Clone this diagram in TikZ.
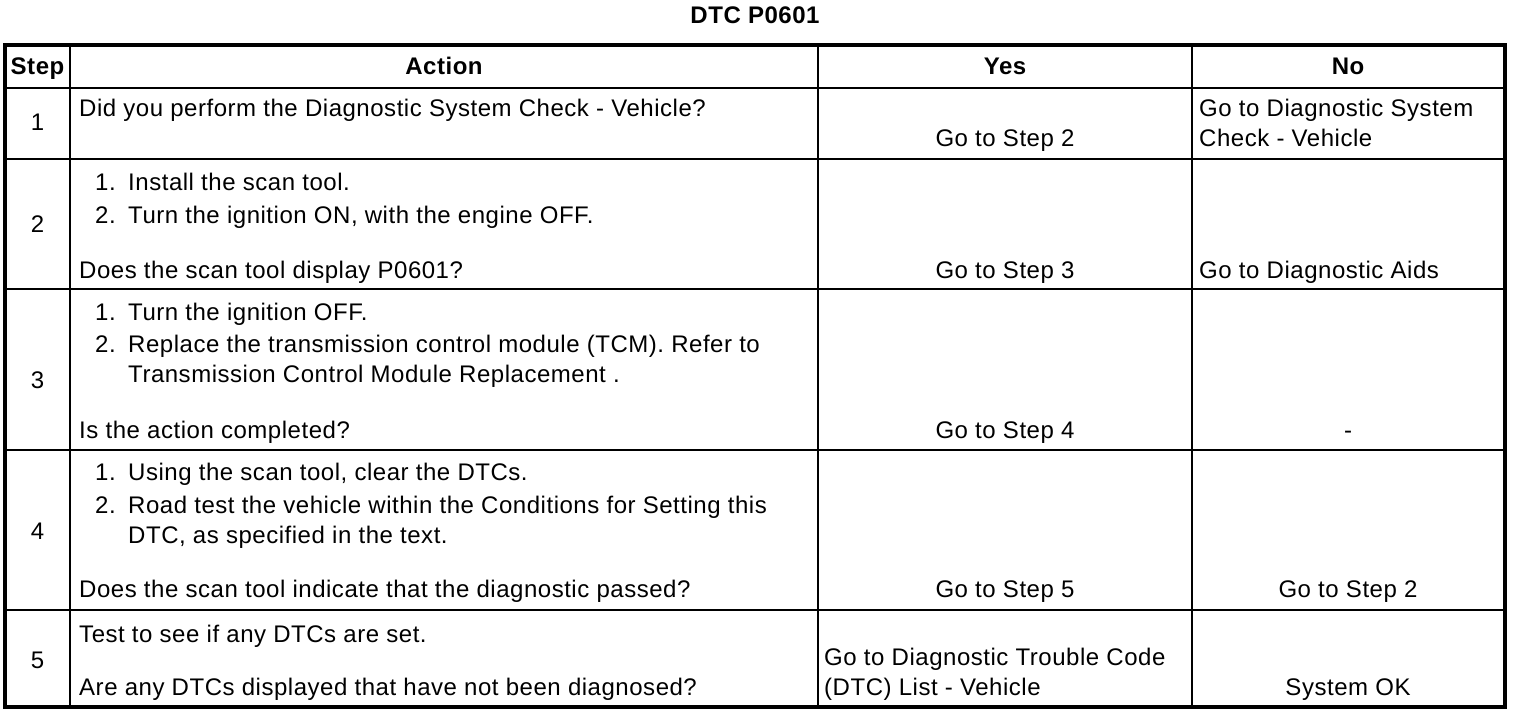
\documentclass[tikz,border=0pt]{standalone}
\usepackage{fontspec}
\setmainfont[LetterSpace=2.2]{Liberation Sans}
\begin{document}
\begin{tikzpicture}[x=1pt,y=-1pt,
  txt/.style={inner sep=0pt, font=\fontsize{24pt}{28pt}\selectfont},
  tl/.style={txt, anchor=base west},
  tc/.style={txt, anchor=base},
  hd/.style={inner sep=0pt, anchor=base, font=\fontsize{24pt}{28pt}\selectfont\bfseries},
  outerline/.style={line width=3.5pt},
  innerline/.style={line width=2pt}]
\useasboundingbox (0,0) rectangle (1520,714);
\node[hd] (title) at (755,24) {DTC P0601};
% grid
\foreach \yy in {88,159,289,450,610} \draw[innerline] (5,\yy) -- (1505,\yy);
\foreach \xx in {70,818,1192} \draw[innerline] (\xx,45) -- (\xx,707);
\draw[outerline] (5,45) rectangle (1505,707);
% header
\node[hd] (hstep) at (37.5,75) {Step};
\node[hd] (hact) at (444,75) {Action};
\node[hd] (hyes) at (1005,75) {Yes};
\node[hd] (hno) at (1348,75) {No};
% row 1
\node[tc] (s1) at (37.5,131) {1};
\node[tl] (a1) at (79,117) {Did you perform the Diagnostic System Check - Vehicle?};
\node[tc] (y1) at (1005,147) {Go to Step 2};
\node[tl] (n1a) at (1199,117) {Go to Diagnostic System};
\node[tl] (n1b) at (1199,147) {Check - Vehicle};
% row 2
\node[tc] (s2) at (37.5,233) {2};
\node[tl] (a2n1) at (95,191) {1.};
\node[tl] (a2t1) at (128,191) {Install the scan tool.};
\node[tl] (a2n2) at (95,223) {2.};
\node[tl] (a2t2) at (128,223) {Turn the ignition ON, with the engine OFF.};
\node[tl] (a2q) at (79,278) {Does the scan tool display P0601?};
\node[tc] (y2) at (1005,278) {Go to Step 3};
\node[tl] (n2) at (1199,278) {Go to Diagnostic Aids};
% row 3
\node[tc] (s3) at (37.5,388) {3};
\node[tl] (a3n1) at (95,320) {1.};
\node[tl] (a3t1) at (128,320) {Turn the ignition OFF.};
\node[tl] (a3n2) at (95,352) {2.};
\node[tl] (a3t2) at (128,352) {Replace the transmission control module (TCM). Refer to};
\node[tl] (a3t3) at (128,382) {Transmission Control Module Replacement .};
\node[tl] (a3q) at (79,438) {Is the action completed?};
\node[tc] (y3) at (1005,438) {Go to Step 4};
\node[tc] (n3) at (1348,438) {-};
% row 4
\node[tc] (s4) at (37.5,539) {4};
\node[tl] (a4n1) at (95,480) {1.};
\node[tl] (a4t1) at (128,480) {Using the scan tool, clear the DTCs.};
\node[tl] (a4n2) at (95,513) {2.};
\node[tl] (a4t2) at (128,513) {Road test the vehicle within the Conditions for Setting this};
\node[tl] (a4t3) at (128,543) {DTC, as specified in the text.};
\node[tl] (a4q) at (79,597) {Does the scan tool indicate that the diagnostic passed?};
\node[tc] (y4) at (1005,597) {Go to Step 5};
\node[tc] (n4) at (1348,597) {Go to Step 2};
% row 5
\node[tc] (s5) at (37.5,668) {5};
\node[tl] (a5t1) at (79,642) {Test to see if any DTCs are set.};
\node[tl] (a5q) at (79,695) {Are any DTCs displayed that have not been diagnosed?};
\node[tl] (y5a) at (824,665) {Go to Diagnostic Trouble Code};
\node[tl] (y5b) at (824,695) {(DTC) List - Vehicle};
\node[tc] (n5) at (1348,695) {System OK};
\end{tikzpicture}
\end{document}
